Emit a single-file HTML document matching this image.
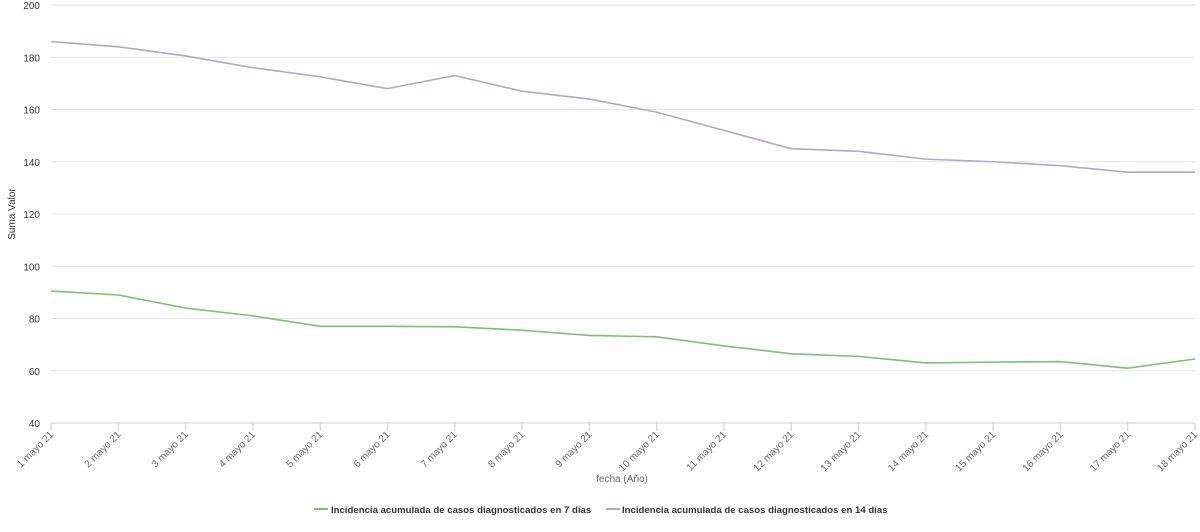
<!DOCTYPE html>
<html><head><meta charset="utf-8"><style>
body{margin:0;background:#fff;font-family:"Liberation Sans",sans-serif}
svg text{font-family:"Liberation Sans",sans-serif}
</style></head><body>
<svg id="chart" width="1200" height="527" xmlns="http://www.w3.org/2000/svg">
<g id="grid"></g>
<g id="yaxis"></g>
<g id="xaxis"></g>
<g id="series"></g>
<text x="15" y="214" font-size="10" fill="#333" text-anchor="middle" transform="rotate(-90 15 214)">Suma Valor</text>
<text x="622" y="482" font-size="10" fill="#666" text-anchor="middle">fecha (Año)</text>
<g>
<g><line x1="314" y1="509" x2="328" y2="509" stroke="#7cbf78" stroke-width="2"/><text x="331" y="513" font-size="9.6" font-weight="bold" fill="#333">Incidencia acumulada de casos diagnosticados en 7 días</text></g>
<g><line x1="606" y1="509" x2="620" y2="509" stroke="#b3a5cc" stroke-width="2"/><text x="622" y="513" font-size="9.6" font-weight="bold" fill="#333">Incidencia acumulada de casos diagnosticados en 14 días</text></g>
</g>
</svg>
<script>
const categories=["1 mayo 21","2 mayo 21","3 mayo 21","4 mayo 21","5 mayo 21","6 mayo 21","7 mayo 21","8 mayo 21","9 mayo 21","10 mayo 21","11 mayo 21","12 mayo 21","13 mayo 21","14 mayo 21","15 mayo 21","16 mayo 21","17 mayo 21","18 mayo 21"];
const series14=[186,184,180.5,176,172.5,168,173,167,164,159,152,145,144,141,140,138.5,136,136];
const series7=[90.5,89,84,81,77,77,76.8,75.5,73.5,73,69.5,66.5,65.5,63,63.3,63.5,61,64.5];
const yTicks=[40,60,80,100,120,140,160,180,200];
const NS="http://www.w3.org/2000/svg";
const x0=51,x1=1195,yTop=5,yBot=423,yMin=40,yMax=200;
function xs(i){return x0+(x1-x0)*i/(categories.length-1);}
function ys(v){return yBot-(v-yMin)/(yMax-yMin)*(yBot-yTop);}
function mk(tag,attrs,parent){const e=document.createElementNS(NS,tag);for(const k in attrs)e.setAttribute(k,attrs[k]);parent.appendChild(e);return e;}
const grid=document.getElementById('grid'),ya=document.getElementById('yaxis'),xa=document.getElementById('xaxis'),sg=document.getElementById('series');
yTicks.forEach(t=>{
 const l=mk('line',{x1:x0,x2:x1,y1:ys(t),y2:ys(t),stroke:t===yMin?'#ccc':'#e6e6e6','stroke-width':1},grid);
 
 
 const tx=mk('text',{x:40,y:ys(t)+4,'font-size':10,fill:'#333','text-anchor':'end'},ya);
 tx.textContent=t;
 
 
});
categories.forEach((c,i)=>{
 const x=xs(i);
 const tk=mk('line',{x1:x,x2:x,y1:yBot,y2:yBot+8,stroke:'#ccc'},xa);
 
 
 const tx=mk('text',{x:x+3,y:yBot+12,'font-size':10,fill:'#666','text-anchor':'end',transform:`rotate(-45 ${x+3} ${yBot+12})`},xa);
 tx.textContent=c;
 
 
});
function line(vals,color,name){
 const p=mk('polyline',{points:vals.map((v,i)=>xs(i)+','+ys(v)).join(' '),fill:'none',stroke:color,'stroke-width':1.6},sg);
 
 
}
line(series14,'#b3a5cc','line-14-dias');
line(series7,'#7cbf78','line-7-dias');
</script>
</body></html>
